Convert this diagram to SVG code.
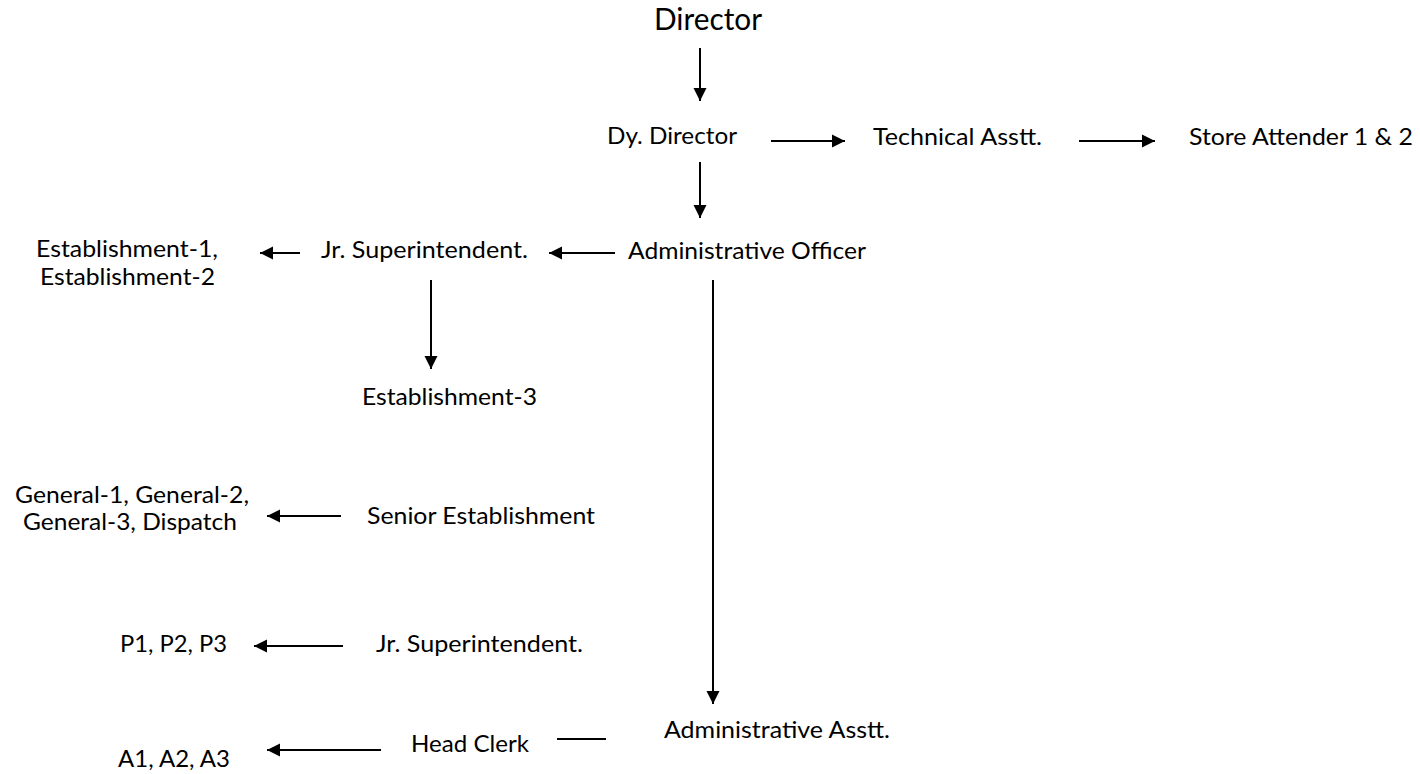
<svg xmlns="http://www.w3.org/2000/svg" width="1420" height="774" viewBox="0 0 1420 774">
<style>
.t{font-family:Lato,"Open Sans","DejaVu Sans",sans-serif;font-size:24px;fill:#000}
.big{font-size:31px}
.c{stroke:#000;stroke-width:2;fill:none}
</style>
<defs>
<marker id="ah" markerUnits="userSpaceOnUse" markerWidth="14" markerHeight="14" refX="13" refY="7" orient="auto">
<path d="M0,0.5 L13,7 L0,13.5 z" fill="#000"/>
</marker>
</defs>
<rect width="1420" height="774" fill="#fff"/>
<g id="connectors">
<line class="c" x1="700" y1="48" x2="700" y2="101" marker-end="url(#ah)"/>
<line class="c" x1="771" y1="141" x2="845" y2="141" marker-end="url(#ah)"/>
<line class="c" x1="1079" y1="141" x2="1155" y2="141" marker-end="url(#ah)"/>
<line class="c" x1="700" y1="162" x2="700" y2="218" marker-end="url(#ah)"/>
<line class="c" x1="615" y1="253" x2="549" y2="253" marker-end="url(#ah)"/>
<line class="c" x1="300" y1="253" x2="260" y2="253" marker-end="url(#ah)"/>
<line class="c" x1="431" y1="280" x2="431" y2="369" marker-end="url(#ah)"/>
<line class="c" x1="713" y1="280" x2="713" y2="704" marker-end="url(#ah)"/>
<line class="c" x1="341" y1="516" x2="267" y2="516" marker-end="url(#ah)"/>
<line class="c" x1="343" y1="646" x2="254" y2="646" marker-end="url(#ah)"/>
<line class="c" x1="381" y1="750" x2="267" y2="750" marker-end="url(#ah)"/>
<line class="c" x1="557" y1="739" x2="606" y2="739"/>
</g>
<g id="director"><text class="t big" x="654" y="30" textLength="108" lengthAdjust="spacingAndGlyphs">Director</text></g>
<g id="dy-director"><text class="t" x="607" y="144" textLength="130" lengthAdjust="spacingAndGlyphs">Dy. Director</text></g>
<g id="technical-asstt"><text class="t" x="873" y="145" textLength="169" lengthAdjust="spacingAndGlyphs">Technical Asstt.</text></g>
<g id="store-attender"><text class="t" x="1189" y="145" textLength="224" lengthAdjust="spacingAndGlyphs">Store Attender 1 &amp; 2</text></g>
<g id="administrative-officer"><text class="t" x="628" y="259" textLength="238" lengthAdjust="spacingAndGlyphs">Administrative Officer</text></g>
<g id="jr-superintendent-1"><text class="t" x="321" y="258" textLength="207" lengthAdjust="spacingAndGlyphs">Jr. Superintendent.</text></g>
<g id="establishment-1-2">
<text class="t" x="36" y="257" textLength="182" lengthAdjust="spacingAndGlyphs">Establishment-1,</text>
<text class="t" x="40" y="285" textLength="175" lengthAdjust="spacingAndGlyphs">Establishment-2</text>
</g>
<g id="establishment-3"><text class="t" x="362" y="405" textLength="175" lengthAdjust="spacingAndGlyphs">Establishment-3</text></g>
<g id="general">
<text class="t" x="15" y="503" textLength="234" lengthAdjust="spacingAndGlyphs">General-1, General-2,</text>
<text class="t" x="23" y="530" textLength="214" lengthAdjust="spacingAndGlyphs">General-3, Dispatch</text>
</g>
<g id="senior-establishment"><text class="t" x="367" y="524" textLength="228" lengthAdjust="spacingAndGlyphs">Senior Establishment</text></g>
<g id="p1-p2-p3"><text class="t" x="120" y="652" textLength="107" lengthAdjust="spacingAndGlyphs">P1, P2, P3</text></g>
<g id="jr-superintendent-2"><text class="t" x="376" y="652" textLength="207" lengthAdjust="spacingAndGlyphs">Jr. Superintendent.</text></g>
<g id="administrative-asstt"><text class="t" x="664" y="738" textLength="226" lengthAdjust="spacingAndGlyphs">Administrative Asstt.</text></g>
<g id="head-clerk"><text class="t" x="411" y="752" textLength="118" lengthAdjust="spacingAndGlyphs">Head Clerk</text></g>
<g id="a1-a2-a3"><text class="t" x="118" y="767" textLength="112" lengthAdjust="spacingAndGlyphs">A1, A2, A3</text></g>
</svg>
